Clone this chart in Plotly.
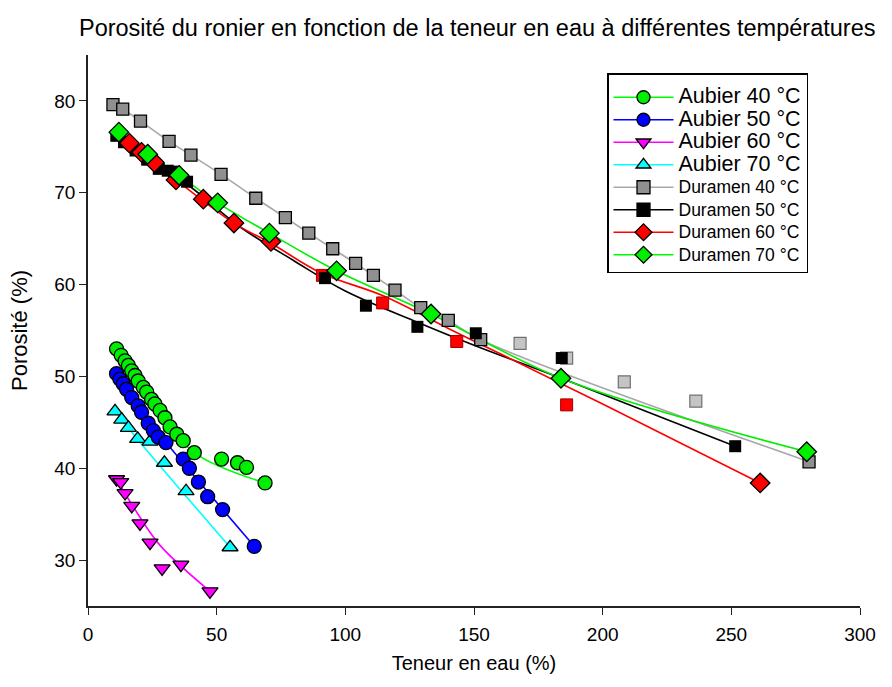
import plotly.graph_objects as go

# ---- data ----
# Aubier (sapwood): measured points + fitted curves
aub40_x = [11.1, 12.9, 14.4, 15.7, 17.0, 18.3, 19.5, 21.5, 22.8, 24.7, 26.0, 28.0, 29.9, 31.9, 34.5, 37.0, 41.3, 51.9, 58.1, 61.6, 68.8]
aub40_y = [53.0, 52.3, 51.7, 51.2, 50.6, 50.1, 49.5, 48.8, 48.3, 47.5, 47.0, 46.3, 45.5, 44.5, 43.7, 43.0, 41.7, 41.0, 40.6, 40.1, 38.4]
aub40_fx = [11.1, 28.0, 41.3, 68.8]
aub40_fy = [53.0, 46.3, 41.7, 38.4]

aub50_x = [11.1, 12.4, 13.7, 15.0, 17.0, 19.5, 20.8, 23.4, 25.4, 27.3, 30.3, 37.0, 39.4, 42.9, 46.5, 52.3, 64.6]
aub50_y = [50.3, 49.7, 49.2, 48.6, 47.7, 46.8, 46.1, 44.9, 44.1, 43.4, 42.8, 41.0, 40.0, 38.5, 36.9, 35.5, 31.5]
aub50_fx = [11.1, 20.8, 30.3, 64.6]
aub50_fy = [50.3, 46.1, 42.8, 31.5]

aub60_x = [11.1, 12.7, 14.4, 17.0, 20.2, 24.1, 28.8, 36.1, 47.4]
aub60_y = [38.8, 38.5, 37.3, 35.9, 34.0, 31.9, 29.1, 29.5, 26.6]
aub60_fx = [11.1, 17.6, 28.0, 47.4]
aub60_fy = [38.8, 35.8, 31.6, 26.6]

aub70_x = [10.5, 13.1, 15.7, 19.3, 24.1, 29.7, 38.1, 55.2]
aub70_y = [46.2, 45.3, 44.4, 43.2, 42.9, 40.6, 37.5, 31.4]
aub70_fx = [10.5, 21.5, 55.2]
aub70_fy = [46.2, 42.4, 31.4]

# Duramen (heartwood)
dur40_x = [9.7, 13.5, 20.4, 31.5, 40.0, 51.7, 65.2, 76.7, 85.8, 95.1, 104.0, 110.9, 119.3, 129.3, 140.0, 152.6, 280.2]
dur40_y = [79.6, 79.1, 77.8, 75.6, 74.1, 72.0, 69.4, 67.3, 65.6, 63.9, 62.3, 61.0, 59.4, 57.5, 56.1, 54.0, 40.7]
dur40_ox = [167.9, 186.0, 208.4, 236.2]
dur40_oy = [53.6, 52.0, 49.4, 47.3]

dur50_x = [11.0, 14.0, 18.5, 23.0, 27.5, 31.0, 33.5, 38.5, 92.1, 108.0, 128.0, 150.7, 184.1, 251.5]
dur50_y = [76.2, 75.5, 74.6, 73.6, 72.6, 72.4, 72.3, 71.2, 60.7, 57.7, 55.4, 54.7, 52.0, 42.4]
dur50_fx = [11.0, 20.0, 30.0, 40.0, 59.0, 80.0, 100.0, 128.0, 150.0, 184.0, 251.5]
dur50_fy = [76.2, 74.3, 72.4, 70.6, 66.3, 62.6, 59.3, 55.9, 53.4, 49.8, 42.4]

dur60_x = [16.1, 20.8, 25.8, 34.2, 44.8, 56.7, 71.1, 261.2]
dur60_y = [75.4, 74.4, 73.3, 71.4, 69.3, 66.7, 64.7, 38.4]
dur60_ox = [91.1, 114.5, 143.3, 186.0]
dur60_oy = [61.0, 58.0, 53.8, 46.9]
dur60_fx = [16.1, 34.2, 56.7, 71.1, 91.0, 114.5, 143.0, 160.0, 200.0, 261.2]
dur60_fy = [75.4, 71.4, 66.7, 64.5, 61.2, 58.8, 54.8, 52.5, 47.0, 38.4]

dur70_x = [12.0, 23.2, 35.4, 50.4, 70.5, 96.6, 133.3, 183.8, 279.3]
dur70_y = [76.6, 74.2, 71.9, 68.9, 65.6, 61.5, 56.8, 49.8, 41.8]

x_ticks = [0, 50, 100, 150, 200, 250, 300]
y_ticks = [30, 40, 50, 60, 70, 80]

FONT = "Arial, Liberation Sans, sans-serif"
EDGE = dict(color="black", width=1.3)

fig = go.Figure()


def curve(x, y, color, shape="spline"):
    fig.add_trace(go.Scatter(x=x, y=y, mode="lines", line=dict(color=color, width=1.6, shape=shape),
                             showlegend=False, hoverinfo="skip"))


def points(x, y, color, symbol, size, line=EDGE):
    fig.add_trace(go.Scatter(x=x, y=y, mode="markers", showlegend=False,
                             marker=dict(color=color, symbol=symbol, size=size, line=line)))


# fitted curves first, markers on top
curve(aub40_fx, aub40_fy, "#00ff00")
curve(aub50_fx, aub50_fy, "#0000ff")
curve(aub60_fx, aub60_fy, "#ff00ff")
curve(aub70_fx, aub70_fy, "#00ffff")
curve(dur40_x, dur40_y, "#a8a8a8")
curve(dur50_fx, dur50_fy, "black")
curve(dur60_fx, dur60_fy, "#ff0000")
curve(dur70_x, dur70_y, "#00ee00")

points(dur40_ox, dur40_oy, "#c4c4c4", "square", 12, dict(color="#707070", width=1.2))
points(dur40_x, dur40_y, "#909090", "square", 12)
points(dur60_ox, dur60_oy, "#ff0000", "square", 12, dict(color="#a00000", width=1))
points(dur50_x, dur50_y, "black", "square", 12, dict(color="black", width=0))
points(dur60_x, dur60_y, "#ff0000", "diamond", 15)
points(dur70_x, dur70_y, "#00ee00", "diamond", 15)
points(aub70_x, aub70_y, "#00ffff", "triangle-up", 14)
points(aub60_x, aub60_y, "#ff00ff", "triangle-down", 14)
points(aub50_x, aub50_y, "#0000ff", "circle", 14)
points(aub40_x, aub40_y, "#00ee00", "circle", 14)

# legend-only entries
legend_items = [
    ("Aubier 40 °C", "#00ff00", "#00ee00", "circle", 21.5),
    ("Aubier 50 °C", "#0000ff", "#0000ff", "circle", 21.5),
    ("Aubier 60 °C", "#ff00ff", "#ff00ff", "triangle-down", 21.5),
    ("Aubier 70 °C", "#00ffff", "#00ffff", "triangle-up", 21.5),
    ("Duramen 40 °C", "#a8a8a8", "#909090", "square", 17.5),
    ("Duramen 50 °C", "black", "black", "square", 17.5),
    ("Duramen 60 °C", "#ff0000", "#ff0000", "diamond", 17.5),
    ("Duramen 70 °C", "#00ff00", "#00ee00", "diamond", 17.5),
]
for name, lc, mc, sym, fs in legend_items:
    fig.add_trace(go.Scatter(x=[None], y=[None], mode="lines+markers",
                             name=f'<span style="font-size:{fs}px">{name}</span>',
                             line=dict(color=lc, width=1.6),
                             marker=dict(color=mc, symbol=sym, size=13, line=EDGE)))

axis_common = dict(showgrid=False, zeroline=False, showline=True, linecolor="#222", linewidth=1.5,
                   ticks="outside", ticklen=7, tickwidth=1.3, tickcolor="#222",
                   tickfont=dict(size=19, family=FONT, color="black"))

fig.update_layout(
    width=892, height=687,
    margin=dict(l=88, r=32, t=55, b=81),
    paper_bgcolor="white", plot_bgcolor="white",
    font=dict(family=FONT, color="black"),
    title=dict(text="Porosité du ronier en fonction de la teneur en eau à différentes températures",
               x=0.535, xref="container", xanchor="center", y=1 - 28 / 687, yanchor="middle",
               font=dict(size=23.5, family=FONT)),
    xaxis=dict(range=[0, 300], tickvals=x_ticks, ticklabelstandoff=3,
               title=dict(text="Teneur en eau (%)", font=dict(size=20), standoff=12), **axis_common),
    yaxis=dict(range=[25, 85], tickvals=y_ticks, ticklabelstandoff=0,
               title=dict(text="Porosité (%)", font=dict(size=22), standoff=21), **axis_common),
    legend=dict(x=(607 - 88) / 772, y=(606 - 73) / 551, xanchor="left", yanchor="top",
                bgcolor="white", bordercolor="black", borderwidth=1.5,
                title=dict(text=" ", font=dict(size=5)),
                font=dict(size=15, family=FONT), itemwidth=60, tracegroupgap=0),
    showlegend=True,
)

# the page body has a default 8px margin; remove it so the figure sits at (0, 0)
fig.write_html("out.html", config={"displayModeBar": False},
               post_script="document.body.style.margin='0';")
